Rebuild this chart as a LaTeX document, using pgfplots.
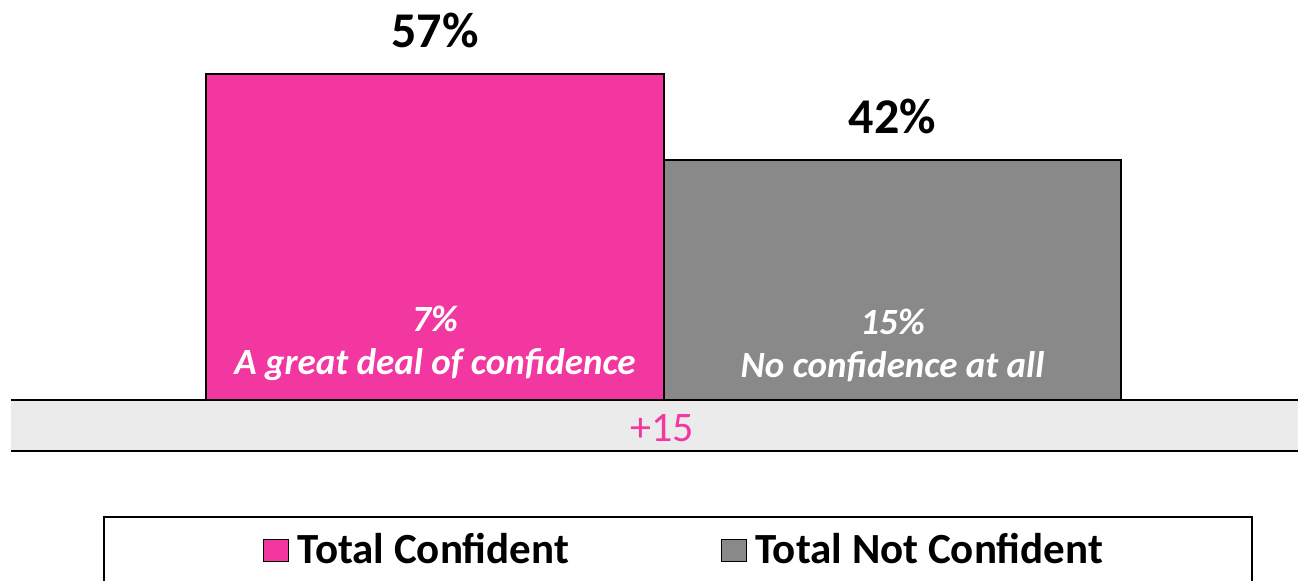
\documentclass[border=0pt]{standalone}
\usepackage{pgfplots}
\pgfplotsset{compat=1.18}
\usepackage{fontspec}
\setmainfont{Carlito}
\definecolor{cpink}{RGB}{242,56,160}
\definecolor{cgray}{RGB}{137,137,137}
\definecolor{cband}{RGB}{235,235,235}
\begin{document}
\begin{tikzpicture}[x=1pt,y=1pt]
% 1 px = 0.5 pt ; origin = top-left of picture
\fill[cband] (5.5,-200) rectangle (649,-225.5);
\draw[black,line width=1.2pt] (5.5,-200) -- (649,-200);
\draw[black,line width=1.2pt] (5.5,-225.5) -- (649,-225.5);
\node[text=cpink,font=\fontsize{21}{25}\selectfont] at (331,-214) {+15};
\begin{axis}[
  at={(5.5pt,-225.5pt)}, anchor=south west,
  scale only axis, width=643.5pt, height=225.5pt,
  xmin=-0.9268, xmax=1.8863, ymin=-8.92, ymax=69.93,
  axis lines=none, ticks=none, clip=false,
  ybar, bar width=228.75pt, bar shift=0pt,
  /pgf/number format/assume math mode=true,
  nodes near coords={\pgfmathprintnumber{\pgfplotspointmeta}\%},
  every node near coord/.append style={font=\bfseries\fontsize{25}{30}\selectfont,
     text=black, anchor=base, inner sep=0pt, yshift=13pt},
  legend style={draw=none, fill=none, at={(0.5237,-0.22)}, anchor=center,
     legend columns=2, font=\bfseries\fontsize{21.5}{25}\selectfont,
     /tikz/every even column/.append style={column sep=74pt}},
  legend image code/.code={\draw[#1,line width=0.6pt] (-2.5pt,-5.5pt) rectangle (10pt,5.5pt);
     \path (12pt,0pt);},
]
\addplot[fill=cpink, draw=black, line width=0.8pt] coordinates {(0,57)};
\addplot[fill=cgray, draw=black, line width=0.8pt] coordinates {(1,42)};
\legend{Total Confident, Total Not Confident}
\node[text=white, font=\bfseries\itshape\fontsize{18.5}{21.5}\selectfont, align=center, anchor=base]
   at (axis cs:0,4.4) {7\%\\A great deal of confidence};
\node[text=white, font=\bfseries\itshape\fontsize{18.5}{21.5}\selectfont, align=center, anchor=base]
   at (axis cs:1,4.0) {15\%\\No confidence at all};
\end{axis}
\draw[black,line width=0.8pt] (52,-320) rectangle (626,-258.5);
\pgfresetboundingbox
\path[use as bounding box] (0,0) rectangle (649,-290.5);
\end{tikzpicture}
\end{document}
